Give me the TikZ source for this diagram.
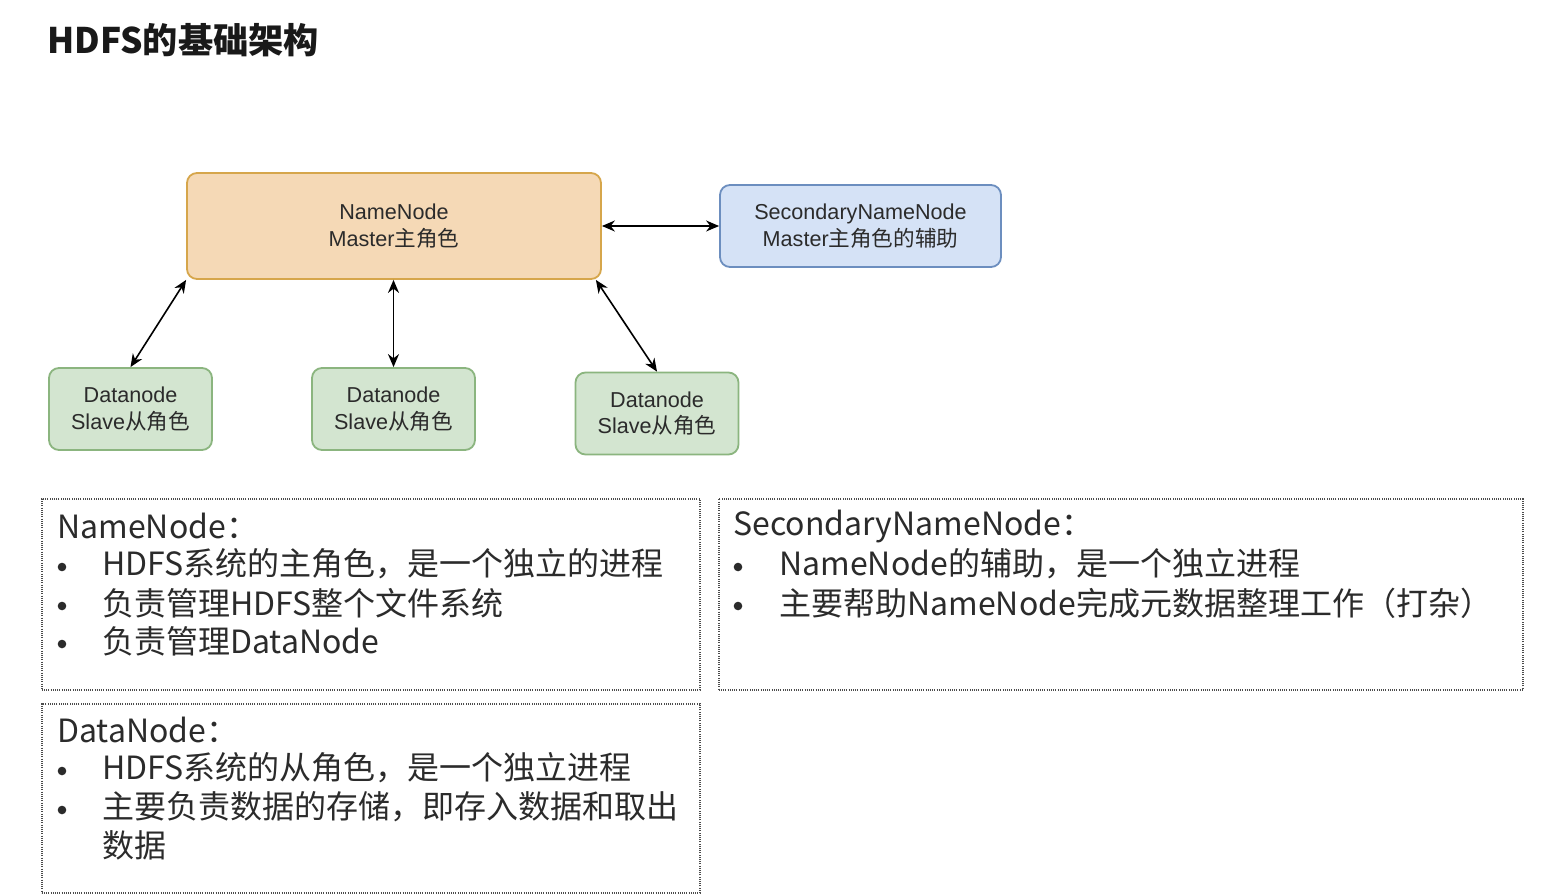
\documentclass[tikz,border=0pt]{standalone}
\usepackage{fontspec}
\setmainfont{Liberation Sans}
\newfontfamily\cjk{Noto Sans CJK SC}
\usetikzlibrary{arrows.meta}
\definecolor{nnfill}{HTML}{F5D9B6}
\definecolor{nndraw}{HTML}{D6A64B}
\definecolor{snfill}{HTML}{D5E2F6}
\definecolor{sndraw}{HTML}{6C8EBF}
\definecolor{dnfill}{HTML}{D3E5D0}
\definecolor{dndraw}{HTML}{8BB57F}
\definecolor{txt}{HTML}{2B2B2B}
\begin{document}
\begin{tikzpicture}[x=0.5pt,y=-0.5pt,
  box/.style={draw, rounded corners=5pt, line width=0.9pt, align=center, inner sep=0pt,
    font=\fontsize{10.8}{13.2}\selectfont, text=txt},
  nnbox/.style={box, fill=nnfill, draw=nndraw, minimum width=207pt, minimum height=53pt},
  snbox/.style={box, fill=snfill, draw=sndraw, minimum width=140.5pt, minimum height=41pt},
  dnbox/.style={box, fill=dnfill, draw=dndraw, minimum width=81.5pt, minimum height=41pt},
  link/.style={{Stealth[length=6.5pt,width=5.5pt]}-{Stealth[length=6.5pt,width=5.5pt]}, line width=0.8pt, black},
  panel/.style={draw=black!70, dash pattern=on 0.5pt off 0.6pt, line width=0.8pt, inner sep=0pt, anchor=north west},
  ptext/.style={anchor=west, inner sep=0pt, font=\cjk\fontsize{16}{19.5}\selectfont, text=txt},
  bul/.style={circle, fill=txt, inner sep=0pt, minimum size=4.3pt}
]
\useasboundingbox[fill=white] (0,0) rectangle (1556,894);

\node[anchor=west, inner sep=0pt, font=\cjk\bfseries\fontsize{17.6}{20}\selectfont, text=black!90] (title) at (47,40) {HDFS的基础架构};

\node[nnbox] (nn) at (394,226) {NameNode\\Master{\cjk 主角色}};
\node[snbox] (sn) at (860.5,226) {SecondaryNameNode\\Master{\cjk 主角色的辅助}};
\node[dnbox] (dn1) at (130.5,409) {Datanode\\Slave{\cjk 从角色}};
\node[dnbox] (dn2) at (393.5,409) {Datanode\\Slave{\cjk 从角色}};
\node[dnbox] (dn3) at (657,413.5) {Datanode\\Slave{\cjk 从角色}};

\draw[link] (nn.east) -- (sn.west);
\draw[link] (nn.south west) -- (dn1.north);
\draw[link] (nn.south -| dn2.north) -- (dn2.north);
\draw[link] ([xshift=-3pt]nn.south east) -- (dn3.north);

% panels
\node[panel, minimum width=329pt, minimum height=95.5pt] (pa) at (41,498) {};
\node[panel, minimum width=402pt, minimum height=95.5pt] (pb) at (718,498) {};
\node[panel, minimum width=329pt, minimum height=94.5pt] (pc) at (41,703) {};

% panel A
\node[ptext] (a0) at (57,526) {NameNode：};
\node[bul] (a1b) at (62,567) {};
\node[ptext] (a1) at (102,564) {HDFS系统的主角色，是一个独立的进程};
\node[bul] (a2b) at (62,606) {};
\node[ptext] (a2) at (102,603) {负责管理HDFS整个文件系统};
\node[bul] (a3b) at (62,644) {};
\node[ptext] (a3) at (102,641) {负责管理DataNode};

% panel B
\node[ptext] (b0) at (733,526) {SecondaryNameNode：};
\node[bul] (b1b) at (738,567) {};
\node[ptext] (b1) at (779,564) {NameNode的辅助，是一个独立进程};
\node[bul] (b2b) at (738,606) {};
\node[ptext] (b2) at (779,603) {主要帮助NameNode完成元数据整理工作（打杂）};

% panel C
\node[ptext] (c0) at (57,730) {DataNode：};
\node[bul] (c1b) at (62,771) {};
\node[ptext] (c1) at (102,768) {HDFS系统的从角色，是一个独立进程};
\node[bul] (c2b) at (62,810) {};
\node[ptext] (c2) at (102,807) {主要负责数据的存储，即存入数据和取出};
\node[ptext] (c3) at (102,845) {数据};
\end{tikzpicture}
\end{document}
